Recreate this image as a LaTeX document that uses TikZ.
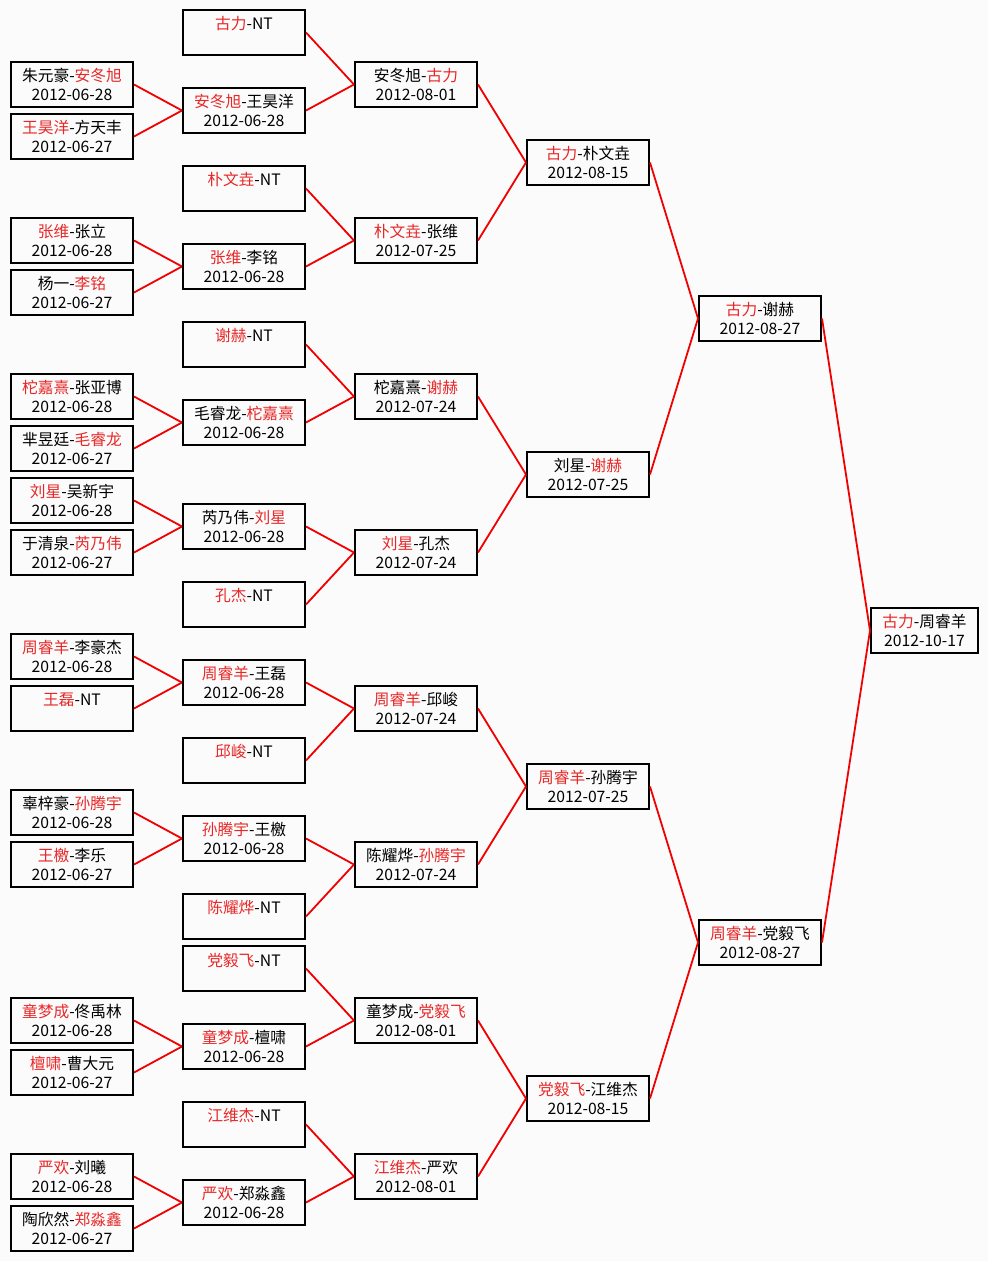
\documentclass[tikz,border=0pt]{standalone}
\usepackage{fontspec}
\setmainfont{Noto Sans CJK SC}
\usepackage{xcolor}
\usepackage{tikz}
\definecolor{winred}{RGB}{232,40,40}
\definecolor{linkred}{RGB}{240,0,0}
\definecolor{paper}{RGB}{251,251,251}
\newcommand{\win}[1]{\textcolor{winred}{#1}}

\begin{document}
\begin{tikzpicture}[x=0.75pt,y=-0.75pt,
  game/.style={rectangle,draw,line width=1.5pt,align=center,inner sep=0pt,minimum width=91.5pt,minimum height=33.75pt,font=\fontsize{11.8}{13.8}\selectfont},
  final/.style={game,minimum width=80.25pt},
  link/.style={linkred,line width=1.35pt}]
\useasboundingbox[fill=paper] (0,0) rectangle (988,1261);
\node[game] (a1) at (72,84.5) {朱元豪-\win{安冬旭}\\2012-06-28};
\node[game] (a2) at (72,136.5) {\win{王昊洋}-方天丰\\2012-06-27};
\node[game] (a3) at (72,240.5) {\win{张维}-张立\\2012-06-28};
\node[game] (a4) at (72,292.5) {杨一-\win{李铭}\\2012-06-27};
\node[game] (a5) at (72,396.5) {\win{柁嘉熹}-张亚博\\2012-06-28};
\node[game] (a6) at (72,448.5) {芈昱廷-\win{毛睿龙}\\2012-06-27};
\node[game] (a7) at (72,500.5) {\win{刘星}-吴新宇\\2012-06-28};
\node[game] (a8) at (72,552.5) {于清泉-\win{芮乃伟}\\2012-06-27};
\node[game] (a9) at (72,656.5) {\win{周睿羊}-李豪杰\\2012-06-28};
\node[game] (a10) at (72,708.5) {\win{王磊}-NT\\~};
\node[game] (a11) at (72,812.5) {辜梓豪-\win{孙腾宇}\\2012-06-28};
\node[game] (a12) at (72,864.5) {\win{王檄}-李乐\\2012-06-27};
\node[game] (a13) at (72,1020.5) {\win{童梦成}-佟禹林\\2012-06-28};
\node[game] (a14) at (72,1072.5) {\win{檀啸}-曹大元\\2012-06-27};
\node[game] (a15) at (72,1176.5) {\win{严欢}-刘曦\\2012-06-28};
\node[game] (a16) at (72,1228.5) {陶欣然-\win{郑淼鑫}\\2012-06-27};
\node[game] (b1) at (244,32.5) {\win{古力}-NT\\~};
\node[game] (b2) at (244,110.5) {\win{安冬旭}-王昊洋\\2012-06-28};
\node[game] (b3) at (244,188.5) {\win{朴文垚}-NT\\~};
\node[game] (b4) at (244,266.5) {\win{张维}-李铭\\2012-06-28};
\node[game] (b5) at (244,344.5) {\win{谢赫}-NT\\~};
\node[game] (b6) at (244,422.5) {毛睿龙-\win{柁嘉熹}\\2012-06-28};
\node[game] (b7) at (244,526.5) {芮乃伟-\win{刘星}\\2012-06-28};
\node[game] (b8) at (244,604.5) {\win{孔杰}-NT\\~};
\node[game] (b9) at (244,682.5) {\win{周睿羊}-王磊\\2012-06-28};
\node[game] (b10) at (244,760.5) {\win{邱峻}-NT\\~};
\node[game] (b11) at (244,838.5) {\win{孙腾宇}-王檄\\2012-06-28};
\node[game] (b12) at (244,916.5) {\win{陈耀烨}-NT\\~};
\node[game] (b13) at (244,968.5) {\win{党毅飞}-NT\\~};
\node[game] (b14) at (244,1046.5) {\win{童梦成}-檀啸\\2012-06-28};
\node[game] (b15) at (244,1124.5) {\win{江维杰}-NT\\~};
\node[game] (b16) at (244,1202.5) {\win{严欢}-郑淼鑫\\2012-06-28};
\node[game] (c1) at (416,84.5) {安冬旭-\win{古力}\\2012-08-01};
\node[game] (c2) at (416,240.5) {\win{朴文垚}-张维\\2012-07-25};
\node[game] (c3) at (416,396.5) {柁嘉熹-\win{谢赫}\\2012-07-24};
\node[game] (c4) at (416,552.5) {\win{刘星}-孔杰\\2012-07-24};
\node[game] (c5) at (416,708.5) {\win{周睿羊}-邱峻\\2012-07-24};
\node[game] (c6) at (416,864.5) {陈耀烨-\win{孙腾宇}\\2012-07-24};
\node[game] (c7) at (416,1020.5) {童梦成-\win{党毅飞}\\2012-08-01};
\node[game] (c8) at (416,1176.5) {\win{江维杰}-严欢\\2012-08-01};
\node[game] (d1) at (588,162.5) {\win{古力}-朴文垚\\2012-08-15};
\node[game] (d2) at (588,474.5) {刘星-\win{谢赫}\\2012-07-25};
\node[game] (d3) at (588,786.5) {\win{周睿羊}-孙腾宇\\2012-07-25};
\node[game] (d4) at (588,1098.5) {\win{党毅飞}-江维杰\\2012-08-15};
\node[game] (e1) at (760,318.5) {\win{古力}-谢赫\\2012-08-27};
\node[game] (e2) at (760,942.5) {\win{周睿羊}-党毅飞\\2012-08-27};
\node[final] (f) at (924.5,630.5) {\win{古力}-周睿羊\\2012-10-17};
\foreach \s/\t in {a1/b2,a2/b2,a3/b4,a4/b4,a5/b6,a6/b6,a7/b7,a8/b7,
                   a9/b9,a10/b9,a11/b11,a12/b11,a13/b14,a14/b14,a15/b16,a16/b16,
                   b1/c1,b2/c1,b3/c2,b4/c2,b5/c3,b6/c3,b7/c4,b8/c4,
                   b9/c5,b10/c5,b11/c6,b12/c6,b13/c7,b14/c7,b15/c8,b16/c8,
                   c1/d1,c2/d1,c3/d2,c4/d2,c5/d3,c6/d3,c7/d4,c8/d4,
                   d1/e1,d2/e1,d3/e2,d4/e2,e1/f,e2/f} {
  \draw[link] (\s.east) -- (\t.west);
}
\end{tikzpicture}
\end{document}
